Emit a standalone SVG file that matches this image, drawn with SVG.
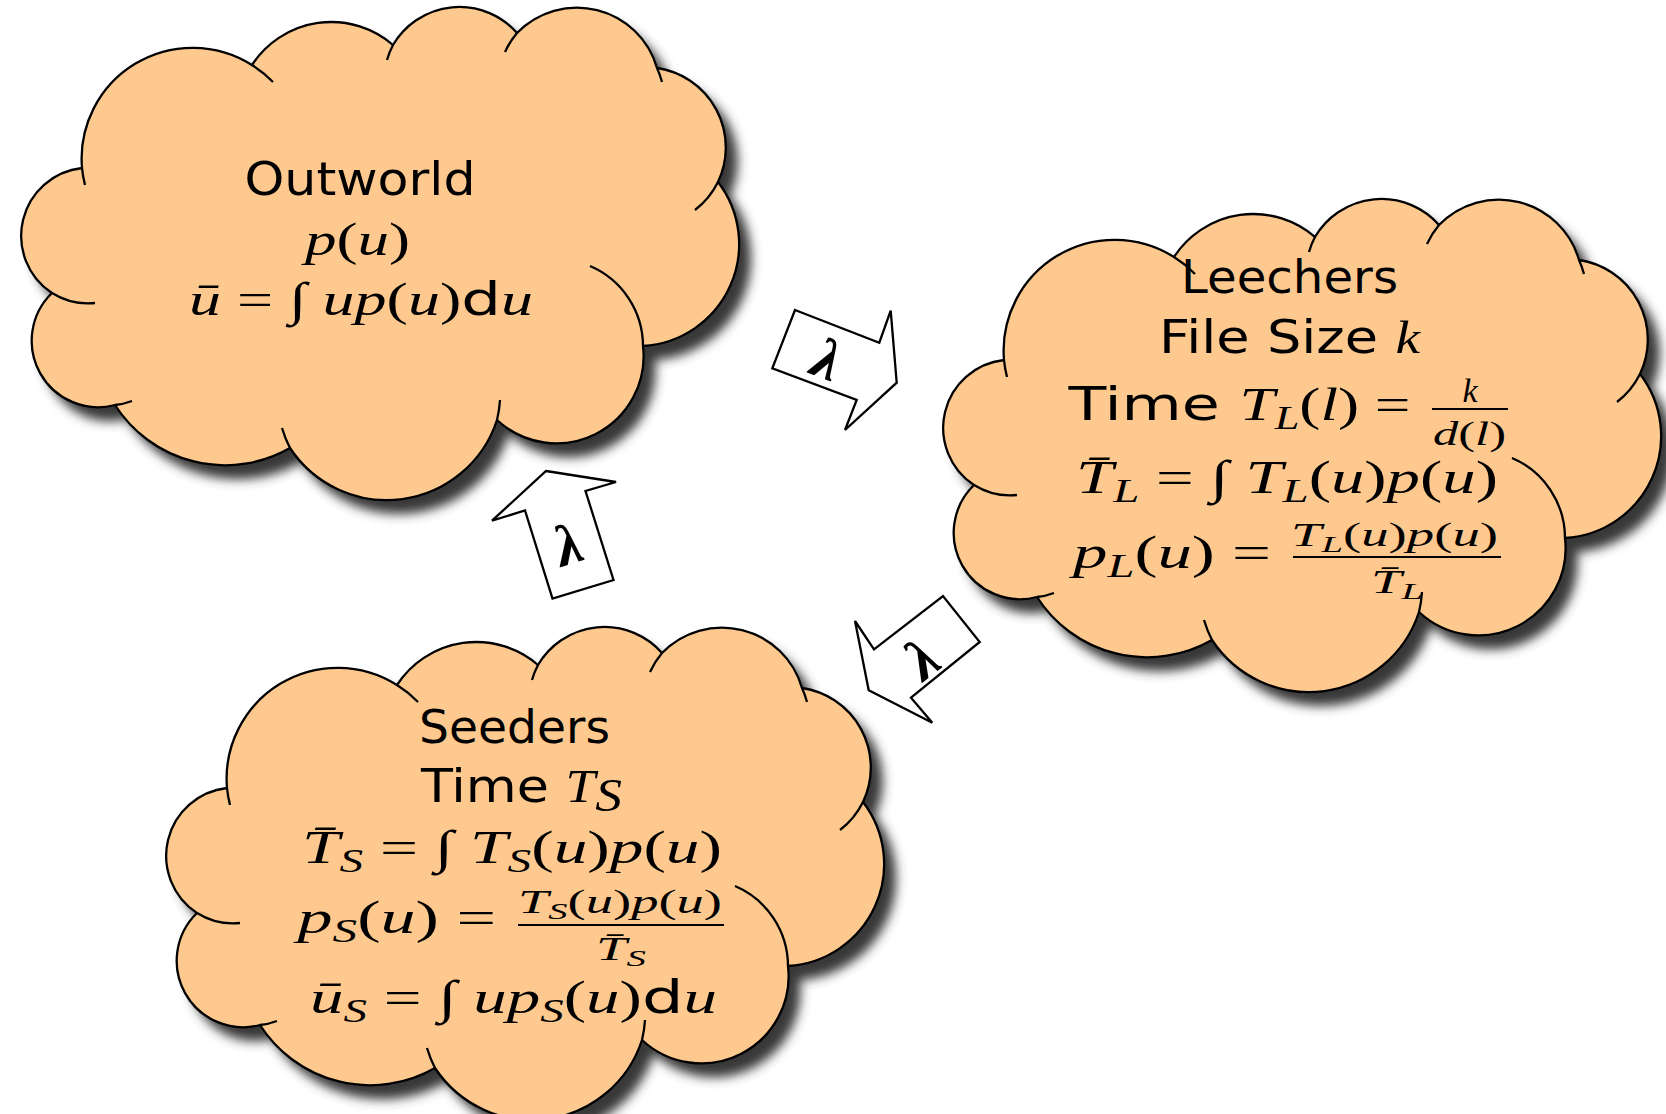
<svg xmlns="http://www.w3.org/2000/svg" xmlns:xlink="http://www.w3.org/1999/xlink" width="1666" height="1114" viewBox="0 0 1666 1114">
<defs>
<style>
.cloud{fill:#fec98f;stroke:#000;stroke-width:2.3;stroke-linejoin:round}
.shadow{fill:#383838}
.tail{fill:none;stroke:#000;stroke-width:2.3}
.arrow{fill:#fff;stroke:#000;stroke-width:2.3;stroke-linejoin:miter}
.sf{font-family:"DejaVu Sans","Liberation Sans",sans-serif;font-size:46px}
.m{font-family:"Liberation Serif","DejaVu Serif",serif;font-size:47px}
.i{font-style:italic}
.fr{font-size:34px}
.lam{font-family:"Liberation Serif","DejaVu Serif",serif;font-size:58px;font-style:italic;font-weight:bold}
.bar{stroke:#000;stroke-width:1.8}
</style>
<filter id="blur" x="-10%" y="-10%" width="125%" height="125%"><feGaussianBlur stdDeviation="5.5"/></filter>
<path id="co" d="M82,168 A111,111 0 0 1 252,65 A94.5,94.5 0 0 1 393,45 A76.8,76.8 0 0 1 517,33 A83.3,83.3 0 0 1 657,68 A80.3,80.3 0 0 1 718,182 A102,102 0 0 1 643,346 A87.2,87.2 0 0 1 497,420 A115.9,115.9 0 0 1 290,448 A130.7,130.7 0 0 1 115,405 A66.4,66.4 0 0 1 52,293 A68.3,68.3 0 0 1 82,168 Z"/>
<path id="tl" d="M82,168 A111,111 0 0 0 85,185 M252,65 A111,111 0 0 1 273,82 M393,45 A76.8,76.8 0 0 0 387,60 M517,33 A83.3,83.3 0 0 0 505,52 M657,68 A83.3,83.3 0 0 1 662,82 M718,182 A80.3,80.3 0 0 1 695,210 M590,266 A87.2,87.2 0 0 1 643,346 M500,400 A115.9,115.9 0 0 1 497,420 M290,448 A115.9,115.9 0 0 1 282,428 M115,405 A66.4,66.4 0 0 0 132,401 M52,293 A68.3,68.3 0 0 0 95,303"/>
</defs>
<rect width="1666" height="1114" fill="#fff"/>

<g id="outworld">
<g>
<use xlink:href="#co" href="#co" class="shadow" transform="translate(12,14)" filter="url(#blur)"/>
<use xlink:href="#co" href="#co" class="cloud"/>
<use xlink:href="#tl" href="#tl" class="tail"/>
</g>
<text class="sf" x="244.5" y="195" textLength="231" lengthAdjust="spacingAndGlyphs">Outworld</text>
<text class="m" x="305" y="255" textLength="105" lengthAdjust="spacingAndGlyphs"><tspan class="i">p</tspan>(<tspan class="i">u</tspan>)</text>
<text class="m" x="189" y="315" textLength="344" lengthAdjust="spacingAndGlyphs"><tspan class="i">ū</tspan> = ∫ <tspan class="i">up</tspan>(<tspan class="i">u</tspan>)<tspan class="sf">d</tspan><tspan class="i">u</tspan></text>
</g>

<g id="leechers">
<g transform="translate(922,192)">
<use xlink:href="#co" href="#co" class="shadow" transform="translate(12,14)" filter="url(#blur)"/>
<use xlink:href="#co" href="#co" class="cloud"/>
<use xlink:href="#tl" href="#tl" class="tail"/>
</g>
<text class="sf" x="1181" y="293" textLength="217" lengthAdjust="spacingAndGlyphs">Leechers</text>
<text class="sf" x="1159" y="353" textLength="261" lengthAdjust="spacingAndGlyphs">File Size <tspan class="m i">k</tspan></text>
<text class="m" x="1068.5" y="420" textLength="342" lengthAdjust="spacingAndGlyphs"><tspan class="sf">Time </tspan><tspan class="i">T</tspan><tspan class="i" font-size="33" dy="9">L</tspan><tspan dy="-9">(</tspan><tspan class="i">l</tspan>) =</text>
<text class="m i fr" x="1470" y="402" text-anchor="middle">k</text>
<line class="bar" x1="1432" y1="409" x2="1508" y2="409"/>
<text class="m fr" x="1433" y="445" textLength="73" lengthAdjust="spacingAndGlyphs"><tspan class="i">d</tspan>(<tspan class="i">l</tspan>)</text>
<text class="m" x="1076" y="493" textLength="422" lengthAdjust="spacingAndGlyphs"><tspan class="i">T&#x304;</tspan><tspan class="i" font-size="33" dy="9">L</tspan><tspan dy="-9"> = ∫ </tspan><tspan class="i">T</tspan><tspan class="i" font-size="33" dy="9">L</tspan><tspan dy="-9">(</tspan><tspan class="i">u</tspan>)<tspan class="i">p</tspan>(<tspan class="i">u</tspan>)</text>
<text class="m" x="1073" y="568" textLength="198" lengthAdjust="spacingAndGlyphs"><tspan class="i">p</tspan><tspan class="i" font-size="33" dy="9">L</tspan><tspan dy="-9">(</tspan><tspan class="i">u</tspan>) =</text>
<text class="m fr" x="1291" y="546" textLength="207" lengthAdjust="spacingAndGlyphs"><tspan class="i">T</tspan><tspan class="i" font-size="24" dy="6">L</tspan><tspan dy="-6">(</tspan><tspan class="i">u</tspan>)<tspan class="i">p</tspan>(<tspan class="i">u</tspan>)</text>
<line class="bar" x1="1293" y1="557" x2="1501" y2="557"/>
<text class="m fr" x="1371" y="593" textLength="52" lengthAdjust="spacingAndGlyphs"><tspan class="i">T&#x304;</tspan><tspan class="i" font-size="24" dy="6">L</tspan></text>
</g>

<g id="seeders">
<g transform="translate(145,620)">
<use xlink:href="#co" href="#co" class="shadow" transform="translate(12,14)" filter="url(#blur)"/>
<use xlink:href="#co" href="#co" class="cloud"/>
<use xlink:href="#tl" href="#tl" class="tail"/>
</g>
<text class="sf" x="419" y="743" textLength="191" lengthAdjust="spacingAndGlyphs">Seeders</text>
<text class="sf" x="421" y="802" textLength="201" lengthAdjust="spacingAndGlyphs">Time <tspan class="m i">T</tspan><tspan class="m i" font-size="33" dy="9">S</tspan></text>
<text class="m" x="302" y="863" textLength="420" lengthAdjust="spacingAndGlyphs"><tspan class="i">T&#x304;</tspan><tspan class="i" font-size="33" dy="9">S</tspan><tspan dy="-9"> = ∫ </tspan><tspan class="i">T</tspan><tspan class="i" font-size="33" dy="9">S</tspan><tspan dy="-9">(</tspan><tspan class="i">u</tspan>)<tspan class="i">p</tspan>(<tspan class="i">u</tspan>)</text>
<text class="m" x="297.5" y="933" textLength="198.5" lengthAdjust="spacingAndGlyphs"><tspan class="i">p</tspan><tspan class="i" font-size="33" dy="9">S</tspan><tspan dy="-9">(</tspan><tspan class="i">u</tspan>) =</text>
<text class="m fr" x="518" y="913" textLength="204" lengthAdjust="spacingAndGlyphs"><tspan class="i">T</tspan><tspan class="i" font-size="24" dy="6">S</tspan><tspan dy="-6">(</tspan><tspan class="i">u</tspan>)<tspan class="i">p</tspan>(<tspan class="i">u</tspan>)</text>
<line class="bar" x1="518" y1="925" x2="724" y2="925"/>
<text class="m fr" x="596" y="960" textLength="50" lengthAdjust="spacingAndGlyphs"><tspan class="i">T&#x304;</tspan><tspan class="i" font-size="24" dy="6">S</tspan></text>
<text class="m" x="310" y="1013" textLength="407" lengthAdjust="spacingAndGlyphs"><tspan class="i">ū</tspan><tspan class="i" font-size="33" dy="9">S</tspan><tspan dy="-9"> = ∫ </tspan><tspan class="i">up</tspan><tspan class="i" font-size="33" dy="9">S</tspan><tspan dy="-9">(</tspan><tspan class="i">u</tspan>)<tspan class="sf">d</tspan><tspan class="i">u</tspan></text>
</g>

<g id="connectors">
<g id="arrow-out-leech">
<polygon class="arrow" points="795,310 879.3,342.7 890.7,310.7 896.7,382.7 845,430 856.7,400 772.3,368.3"/>
<text class="lam" transform="translate(827,360) rotate(21)" x="0" y="19" text-anchor="middle">λ</text>
</g>
<g id="arrow-seed-out">
<polygon class="arrow" points="546,471 616,482 585.5,491 613.5,580 552.5,598.5 525,510.5 492,520.7"/>
<text class="lam" transform="translate(568,545) rotate(-18)" x="0" y="19" text-anchor="middle">λ</text>
</g>
<g id="arrow-leech-seed">
<polygon class="arrow" points="874,649.3 943,596 979.7,642 911,697.7 932.3,722.7 868.7,690.2 855,621"/>
<text class="lam" transform="translate(922,659) rotate(-38)" x="0" y="19" text-anchor="middle">λ</text>
</g>
</g>
</svg>
